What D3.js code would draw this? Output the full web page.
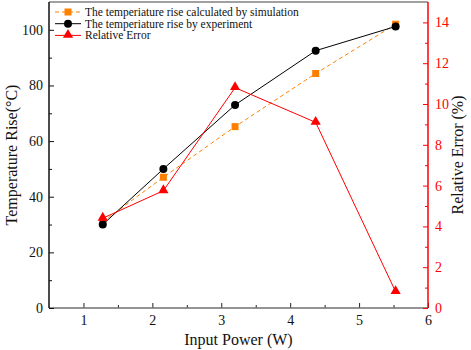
<!DOCTYPE html>
<html>
<head>
<meta charset="utf-8">
<script src="https://cdn.jsdelivr.net/npm/d3@7"></script>
<style>
  body { margin: 0; background: #fff; }
</style>
</head>
<body>
<div id="chart"></div>
<script>
// data
const power = [1.28, 2.16, 3.2, 4.37, 5.53];
const simRise = [31, 47, 65.2, 84.3, 102];
const expRise = [30, 50, 73, 92.5, 101.2];
const relError = [4.4, 5.75, 10.8, 9.1, 0.8];
const xTicks = [1, 2, 3, 4, 5, 6];
const xMinor = [1.5, 2.5, 3.5, 4.5, 5.5];
const leftTicks = [0, 20, 40, 60, 80, 100];
const leftMinor = [10, 30, 50, 70, 90];
const rightTicks = [0, 2, 4, 6, 8, 10, 12, 14];
const rightMinor = [1, 3, 5, 7, 9, 11, 13];
const legendLabels = [
  "The temperiature rise calculated by simulation",
  "The temperiature rise by experiment",
  "Relative Error"
];

const FONT = "'Liberation Serif', 'Times New Roman', serif";
const W = 471, H = 350;
const margin = { top: 2, right: 43, bottom: 42, left: 49 };
const w = W - margin.left - margin.right;
const h = H - margin.top - margin.bottom;

const svg = d3.select("#chart").append("svg")
  .attr("width", W).attr("height", H)
  .attr("font-family", FONT);
const g = svg.append("g").attr("transform", `translate(${margin.left},${margin.top})`);

const x = d3.scaleLinear().domain([0.5, 6]).range([0, w]);
const yL = d3.scaleLinear().domain([0, 110]).range([h, 0]);
const yR = d3.scaleLinear().domain([0, 15]).range([h, 0]);

// top frame
g.append("line").attr("x1", 0).attr("x2", w).attr("y1", 0).attr("y2", 0)
  .attr("stroke", "#808080").attr("stroke-width", 1.5);

function styleAxis(sel, lineColor, textColor) {
  sel.attr("font-family", FONT);
  sel.selectAll("path").remove();
  sel.selectAll("line").attr("stroke", lineColor).attr("stroke-width", 1);
  sel.selectAll("text").attr("font-size", 14).attr("fill", textColor);
}

// x axis
g.append("g").attr("transform", `translate(0,${h})`)
  .call(d3.axisTop(x).tickValues(xMinor).tickSize(3).tickSizeOuter(0).tickFormat(""))
  .call(s => styleAxis(s, "#222", "#111"));
g.append("g").attr("transform", `translate(0,${h})`)
  .call(d3.axisBottom(x).tickValues(xTicks).tickSize(-5).tickSizeOuter(0).tickPadding(7).tickFormat(d3.format("d")))
  .call(s => styleAxis(s, "#222", "#111"));
g.append("line").attr("x1", 0).attr("x2", w).attr("y1", h).attr("y2", h)
  .attr("stroke", "#707070").attr("stroke-width", 1.5);

// left axis
g.append("g")
  .call(d3.axisRight(yL).tickValues(leftMinor).tickSize(3).tickSizeOuter(0).tickFormat(""))
  .call(s => styleAxis(s, "#111", "#111"));
g.append("g")
  .call(d3.axisLeft(yL).tickValues(leftTicks).tickSize(-5).tickSizeOuter(0).tickPadding(6).tickFormat(d3.format("d")))
  .call(s => styleAxis(s, "#111", "#111"));
g.append("line").attr("x1", 0).attr("x2", 0).attr("y1", 0).attr("y2", h)
  .attr("stroke", "#111").attr("stroke-width", 1.5);

// right axis
g.append("g").attr("transform", `translate(${w},0)`)
  .call(d3.axisLeft(yR).tickValues(rightMinor).tickSize(3).tickSizeOuter(0).tickFormat(""))
  .call(s => styleAxis(s, "#ff0000", "#ff0000"));
g.append("g").attr("transform", `translate(${w},0)`)
  .call(d3.axisRight(yR).tickValues(rightTicks).tickSize(-5).tickSizeOuter(0).tickPadding(7).tickFormat(d3.format("d")))
  .call(s => styleAxis(s, "#ff0000", "#ff0000"));
g.append("line").attr("x1", w).attr("x2", w).attr("y1", 0).attr("y2", h)
  .attr("stroke", "#ff0000").attr("stroke-width", 1.5);

// axis titles
svg.append("text").attr("x", margin.left + x(3.25)).attr("y", 345)
  .attr("text-anchor", "middle").attr("font-size", 16).attr("fill", "#111")
  .text("Input Power (W)");
svg.append("text").attr("transform", `translate(17,${margin.top + h / 2}) rotate(-90)`)
  .attr("text-anchor", "middle").attr("font-size", 16).attr("fill", "#111")
  .text("Temperature Rise(°C)");
svg.append("text").attr("transform", `translate(463,${margin.top + h / 2}) rotate(-90)`)
  .attr("text-anchor", "middle").attr("font-size", 16).attr("fill", "#111")
  .text("Relative Error (%)");

const idx = d3.range(power.length);

// simulation series
g.append("path").datum(idx)
  .attr("fill", "none").attr("stroke", "#ff8000").attr("stroke-width", 1)
  .attr("stroke-dasharray", "4,3")
  .attr("d", d3.line().x(i => x(power[i])).y(i => yL(simRise[i])));
g.selectAll(".sq").data(idx).join("rect")
  .attr("x", i => x(power[i]) - 3.5).attr("y", i => yL(simRise[i]) - 3.5)
  .attr("width", 7).attr("height", 7).attr("fill", "#ff8000");

// experiment series
g.append("path").datum(idx)
  .attr("fill", "none").attr("stroke", "#000").attr("stroke-width", 1)
  .attr("d", d3.line().x(i => x(power[i])).y(i => yL(expRise[i])));
g.selectAll(".dot").data(idx).join("circle")
  .attr("cx", i => x(power[i])).attr("cy", i => yL(expRise[i]))
  .attr("r", 4).attr("fill", "#000");

// relative error series
g.append("path").datum(idx)
  .attr("fill", "none").attr("stroke", "#ff0000").attr("stroke-width", 1)
  .attr("d", d3.line().x(i => x(power[i])).y(i => yR(relError[i])));
const tri = d3.symbol().type(d3.symbolTriangle).size(45);
g.selectAll(".tri").data(idx).join("path")
  .attr("transform", i => `translate(${x(power[i])},${yR(relError[i]) - 0.5})`)
  .attr("d", tri).attr("fill", "#ff0000");

// legend
const leg = svg.append("g").attr("transform", "translate(55,12)");
const legStyle = [
  { color: "#ff8000", dash: "4,3", mark: "square" },
  { color: "#000", dash: null, mark: "circle" },
  { color: "#ff0000", dash: null, mark: "triangle" }
];
legendLabels.forEach((label, i) => {
  const row = leg.append("g").attr("transform", `translate(0,${i * 11.7})`);
  row.append("line").attr("x1", 0).attr("x2", 26).attr("y1", 0).attr("y2", 0)
    .attr("stroke", legStyle[i].color).attr("stroke-width", 1)
    .attr("stroke-dasharray", legStyle[i].dash);
  const m = legStyle[i].mark;
  if (m === "square") {
    row.append("rect").attr("x", 9.5).attr("y", -3.5).attr("width", 7).attr("height", 7)
      .attr("fill", legStyle[i].color);
  } else if (m === "circle") {
    row.append("circle").attr("cx", 13).attr("cy", 0).attr("r", 4).attr("fill", legStyle[i].color);
  } else {
    row.append("path").attr("transform", "translate(13,-0.5)").attr("d", tri).attr("fill", legStyle[i].color);
  }
  row.append("text").attr("x", 30).attr("y", 4).attr("font-size", 11.5).attr("fill", "#111")
    .text(label);
});
</script>
</body>
</html>
